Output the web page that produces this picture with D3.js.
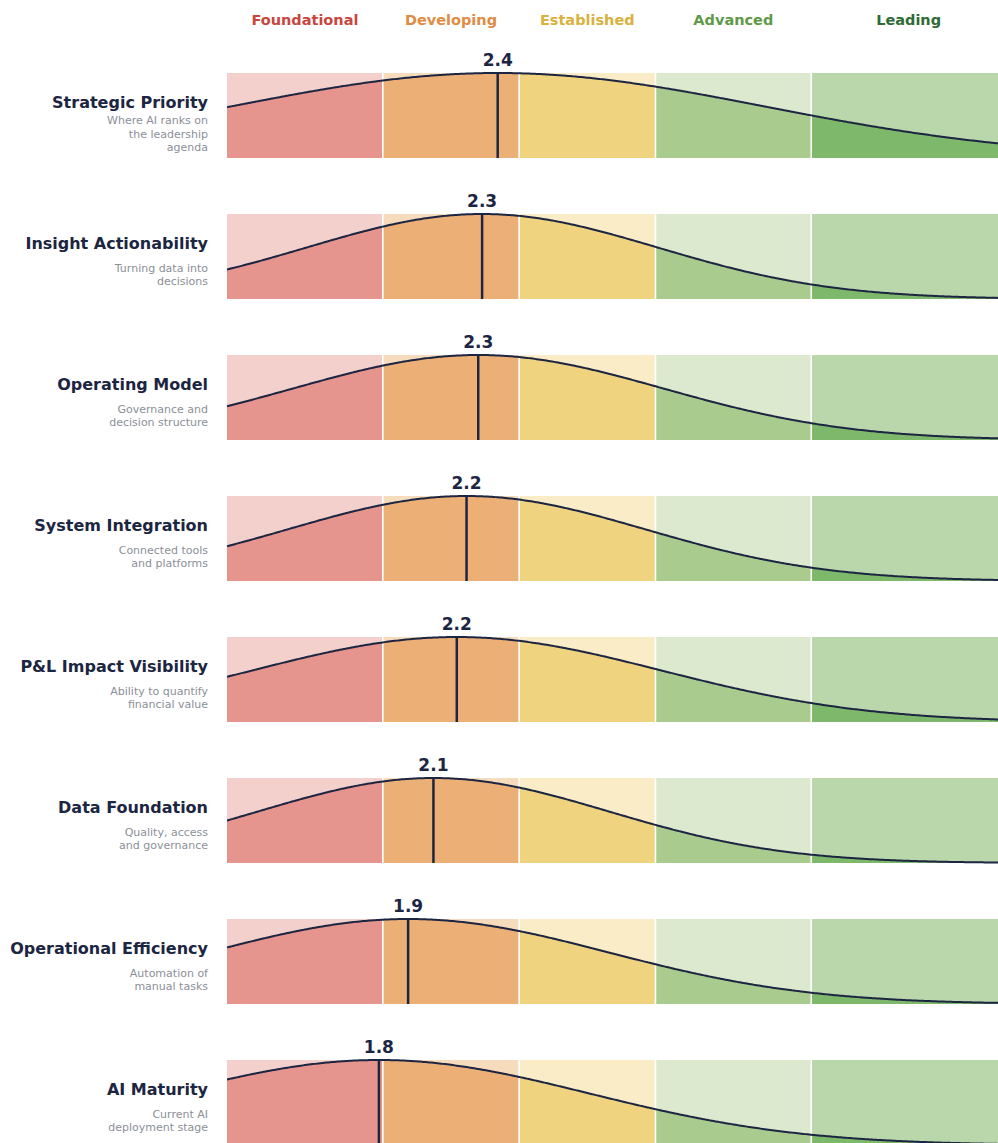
<!DOCTYPE html>
<html>
<head>
<meta charset="utf-8">
<script src="https://cdn.jsdelivr.net/npm/d3@7"></script>
<style>
  html, body { margin: 0; padding: 0; background: #ffffff; }
  svg { display: block; }
</style>
</head>
<body>
<svg id="chart" width="998" height="1143"></svg>
<script>
// Maturity stages and their score ranges (1–5 scale)
const stages = ["Foundational", "Developing", "Established", "Advanced", "Leading"];
const stageBreaks = [1.0, 1.8, 2.5, 3.2, 4.0, 5.0];
const stageLabelColors = ["#c9463f", "#e08b46", "#d9b13d", "#5f9a4b", "#2e6b35"];
const stageFillUnder = ["#e6948e", "#ecb077", "#efd37f", "#a9cb8e", "#7eb86a"];
const stageFillOver = ["#f3d0cc", "#f6dbbc", "#f9ecc6", "#dde9cf", "#b9d7ab"];

// Assessed dimensions
const dimensions = [
  "Strategic Priority",
  "Insight Actionability",
  "Operating Model",
  "System Integration",
  "P&L Impact Visibility",
  "Data Foundation",
  "Operational Efficiency",
  "AI Maturity"
];
const descriptions = [
  ["Where AI ranks on", "the leadership", "agenda"],
  ["Turning data into", "decisions"],
  ["Governance and", "decision structure"],
  ["Connected tools", "and platforms"],
  ["Ability to quantify", "financial value"],
  ["Quality, access", "and governance"],
  ["Automation of", "manual tasks"],
  ["Current AI", "deployment stage"]
];
// Mean score and spread of responses per dimension
const means = [2.39, 2.31, 2.29, 2.23, 2.18, 2.06, 1.93, 1.78];
const spreads = [1.37, 0.90, 0.95, 0.92, 1.05, 0.90, 1.03, 1.08];

const svg = d3.select("#chart");
const font = "'DejaVu Sans', sans-serif";
const navy = "#1c2541";

const x = d3.scaleLinear().domain([1, 5]).range([227, 1006]);
const rowTop = 73, rowStep = 141, rowH = 85;
const y = d3.scaleLinear().domain([0, 1]).range([rowH, 0]);

// Stage headers
svg.append("g").selectAll("text")
  .data(stages)
  .join("text")
  .attr("x", (d, i) => (x(stageBreaks[i]) + x(stageBreaks[i + 1])) / 2)
  .attr("y", 25)
  .attr("text-anchor", "middle")
  .attr("font-family", font)
  .attr("font-weight", "bold")
  .attr("font-size", 14.5)
  .attr("fill", (d, i) => stageLabelColors[i])
  .text(d => d);

const defs = svg.append("defs");
const samples = d3.range(0, 401).map(k => 1 + k * 0.01);

dimensions.forEach((name, r) => {
  const g = svg.append("g").attr("transform", `translate(0,${rowTop + r * rowStep})`);
  const mu = means[r], sd = spreads[r];
  const pts = samples.map(v => [v, Math.exp(-((v - mu) ** 2) / (2 * sd * sd))]);

  const area = d3.area().x(d => x(d[0])).y0(y(0)).y1(d => y(d[1])).curve(d3.curveBasis);
  const line = d3.line().x(d => x(d[0])).y(d => y(d[1])).curve(d3.curveBasis);

  const clipId = `under-${r}`;
  defs.append("clipPath").attr("id", clipId).append("path").attr("d", area(pts));

  const bands = stages.map((s, i) => ({ i, x0: stageBreaks[i], x1: stageBreaks[i + 1] }));

  g.append("g").selectAll("rect")
    .data(bands)
    .join("rect")
    .attr("x", d => x(d.x0)).attr("width", d => x(d.x1) - x(d.x0))
    .attr("y", 0).attr("height", rowH)
    .attr("fill", d => stageFillOver[d.i]);

  g.append("g").attr("clip-path", `url(#${clipId})`).selectAll("rect")
    .data(bands)
    .join("rect")
    .attr("x", d => x(d.x0)).attr("width", d => x(d.x1) - x(d.x0))
    .attr("y", 0).attr("height", rowH)
    .attr("fill", d => stageFillUnder[d.i]);

  // stage separators
  g.append("g").selectAll("line")
    .data(stageBreaks.slice(1, -1))
    .join("line")
    .attr("x1", d => x(d)).attr("x2", d => x(d))
    .attr("y1", 0).attr("y2", rowH)
    .attr("stroke", "#ffffff").attr("stroke-width", 1.6);

  g.append("path").attr("d", line(pts))
    .attr("fill", "none").attr("stroke", navy).attr("stroke-width", 2);

  g.append("line")
    .attr("x1", x(mu)).attr("x2", x(mu))
    .attr("y1", y(1)).attr("y2", y(0))
    .attr("stroke", navy).attr("stroke-width", 2.5);

  g.append("text")
    .attr("x", x(mu)).attr("y", -7)
    .attr("text-anchor", "middle")
    .attr("font-family", font).attr("font-weight", "bold").attr("font-size", 17)
    .attr("fill", navy)
    .text(d3.format(".1f")(mu));

  // dimension name and description
  g.append("text")
    .attr("x", 208).attr("y", rowH / 2 - 8)
    .attr("text-anchor", "end")
    .attr("font-family", font).attr("font-weight", "bold").attr("font-size", 16)
    .attr("fill", navy)
    .text(name);

  const lines = descriptions[r];
  const lh = 13.4;
  const firstY = rowH / 2 + 17.5 - (lines.length - 1) * lh / 2 + 4.5;
  g.append("g").selectAll("text")
    .data(lines)
    .join("text")
    .attr("x", 208).attr("y", (d, k) => firstY + k * lh)
    .attr("text-anchor", "end")
    .attr("font-family", font).attr("font-size", 11)
    .attr("fill", "#8b8f98")
    .text(d => d);
});
</script>
</body>
</html>
